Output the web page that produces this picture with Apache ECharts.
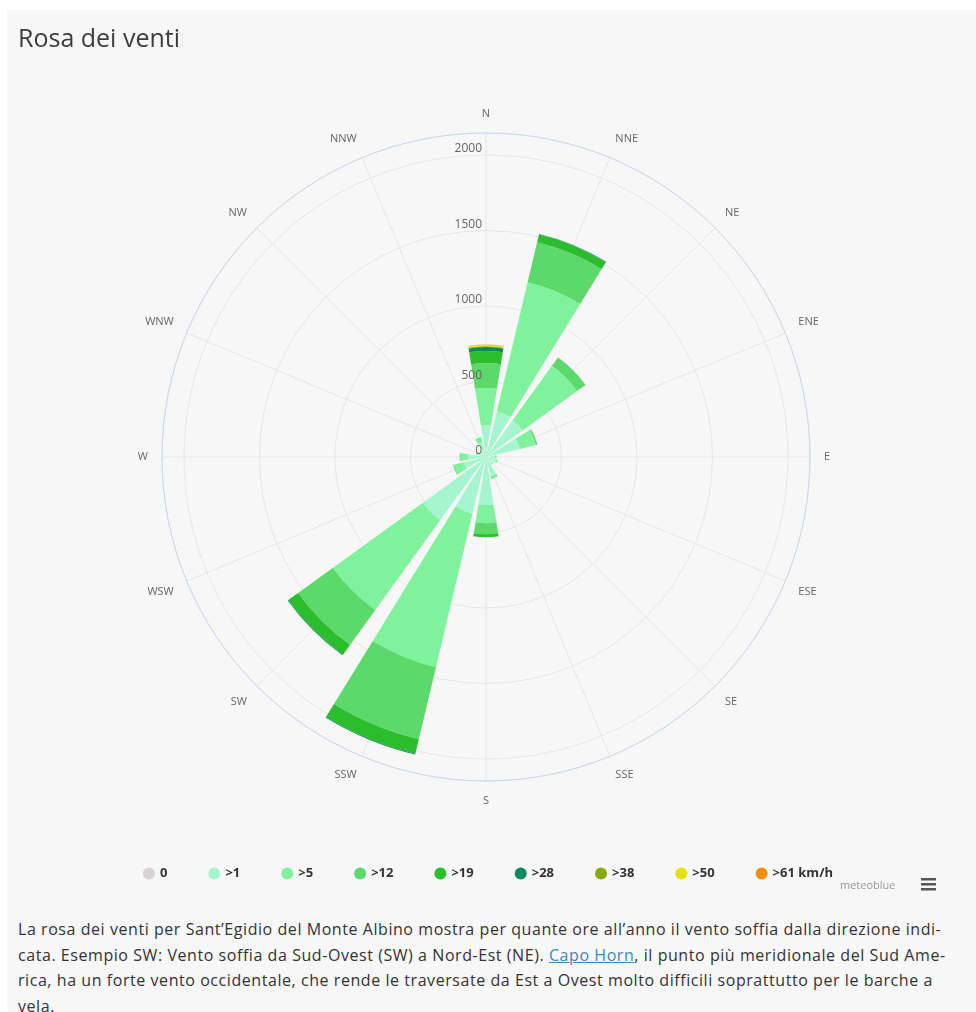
<!DOCTYPE html>
<html><head><meta charset="utf-8">
<script src="https://cdn.jsdelivr.net/npm/echarts@6/dist/echarts.min.js"></script>
<style>
html,body{margin:0;padding:0;background:#fff;width:976px;height:1012px;overflow:hidden;}
#panel{position:absolute;left:7px;top:10px;width:969px;height:1002px;background:#f7f7f7;}
#chart{position:absolute;left:0;top:0;width:976px;height:905px;}
#desc{position:absolute;left:18px;top:917px;font-family:'Open Sans',sans-serif;font-size:16px;letter-spacing:0.56px;line-height:25.5px;color:#333;}
#desc div{white-space:nowrap;}
#desc a{color:#3b8ab8;text-decoration:underline;}
</style></head><body>
<div id="panel"></div>
<div id="chart"></div>
<div id="desc">
<div>La rosa dei venti per Sant’Egidio del Monte Albino mostra per quante ore all’anno il vento soffia dalla direzione indi-</div>
<div>cata. Esempio SW: Vento soffia da Sud-Ovest (SW) a Nord-Est (NE). <a>Capo Horn</a>, il punto più meridionale del Sud Ame-</div>
<div>rica, ha un forte vento occidentale, che rende le traversate da Est a Ovest molto difficili soprattutto per le barche a</div>
<div>vela.</div>
</div>
<script>
const directions = ['N','NNE','NE','ENE','E','ESE','SE','SSE','S','SSW','SW','WSW','W','WNW','NW','NNW'];
const speedBins = ['0','>1','>5','>12','>19','>28','>38','>50','>61 km/h'];
const binColors = ['#d8d3d3','#a6f5cf','#80f29d','#5dd96c','#2cbd2c','#0b8a5e','#87ab0c','#e8e012','#f28e0c'];
// hours per year per direction (N, NNE, ... NNW)
const calm   = [0,0,0,0,0,0,0,0,0,0,0,0,0,0,0,0];
const gt1    = [212,310,300,230,60,70,60,130,318,385,516,150,120,60,40,100];
const gt5    = [245,880,445,110,10,10,5,20,120,1046,735,70,50,10,5,30];
const gt12   = [165,272,66,10,0,0,0,0,73,490,285,5,5,0,0,5];
const gt19   = [80,53,3,0,0,0,0,0,20,100,80,0,0,0,0,0];
const gt28   = [26,3,0,0,0,0,0,0,0,5,5,0,0,0,0,0];
const gt38   = [5,0,0,0,0,0,0,0,0,0,0,0,0,0,0,0];
const gt50   = [10,0,0,0,0,0,0,0,0,0,0,0,0,0,0,0];
const gt61   = [2,0,0,0,0,0,0,0,0,0,0,0,0,0,0,0];
const radialTicks = [0,500,1000,1500,2000];
const radialMax = 2146;

const seriesValues = [calm, gt1, gt5, gt12, gt19, gt28, gt38, gt50, gt61];
const cx = 486, cy = 457, R = 324;
const font = 'Open Sans';

const chart = echarts.init(document.getElementById('chart'), null, {renderer:'canvas'});
const option = {
  animation: false,
  backgroundColor: 'transparent',
  title: {text:'Rosa dei venti', left: 13, top: 22,
    textStyle:{fontFamily:font, fontSize:25, fontWeight:'normal', color:'#3d3d3d'}},
  legend: {
    data: speedBins, left:'center', top: 862, icon:'circle', itemWidth:12, itemHeight:12, itemGap:41,
    textStyle:{fontFamily:font, fontSize:13, fontWeight:'bold', color:'#333'}
  },
  polar: [
    {center:[cx,cy], radius:R},
    {center:[cx,cy], radius:R},
    {center:[cx,cy], radius:R}
  ],
  angleAxis: [
    {polarIndex:0, type:'value', min:0, max:360, interval:22.5, startAngle:90, clockwise:true, z:0,
      axisLine:{show:true, lineStyle:{color:'#ccd6eb', width:1}},
      axisTick:{show:false},
      axisLabel:{margin:14, color:'#666', fontSize:11, fontFamily:font,
        formatter: v => v >= 360 ? '' : directions[Math.round(v/22.5)]},
      splitLine:{show:true, lineStyle:{color:'#e6e6e6', width:1}}},
    {polarIndex:1, type:'category', data:directions, startAngle:90 + 180/directions.length, clockwise:true,
      axisLine:{show:false}, axisTick:{show:false}, axisLabel:{show:false}, splitLine:{show:false}},
    {polarIndex:2, type:'value', min:0, max:360, startAngle:90, clockwise:true, show:false}
  ],
  radiusAxis: [
    {polarIndex:0, type:'value', min:0, max:radialMax, interval:500, z:0,
      axisLine:{show:false}, axisTick:{show:false}, axisLabel:{show:false},
      splitLine:{show:true, lineStyle:{color:'#e6e6e6', width:1}}},
    {polarIndex:1, type:'value', min:0, max:radialMax,
      axisLine:{show:false}, axisTick:{show:false}, axisLabel:{show:false}, splitLine:{show:false}},
    {polarIndex:2, type:'value', min:0, max:radialMax, interval:500, z:10,
      axisLine:{show:false}, axisTick:{show:false}, splitLine:{show:false},
      axisLabel:{margin:4, align:'right', verticalAlign:'bottom', color:'#666', fontSize:12, fontFamily:font,
        showMaxLabel:false,
        formatter: v => radialTicks.indexOf(v) >= 0 ? String(v) : ''}}
  ],
  graphic: [
    {type:'text', left:840, top:880, style:{text:'meteoblue', fill:'#999', font:'11px "Open Sans"'}},
    {type:'rect', left:921, top:878, shape:{width:15, height:2.5}, style:{fill:'#555'}},
    {type:'rect', left:921, top:883, shape:{width:15, height:2.5}, style:{fill:'#555'}},
    {type:'rect', left:921, top:888, shape:{width:15, height:2.5}, style:{fill:'#555'}}
  ],
  series: speedBins.map((name, i) => ({
    name: name, type:'bar', coordinateSystem:'polar', polarIndex:1, stack:'wind',
    barCategoryGap:'19%', data: seriesValues[i],
    itemStyle:{color: binColors[i]}, emphasis:{disabled:true}, z:2
  })),
  color: binColors
};
chart.setOption(option);
</script>
</body></html>
